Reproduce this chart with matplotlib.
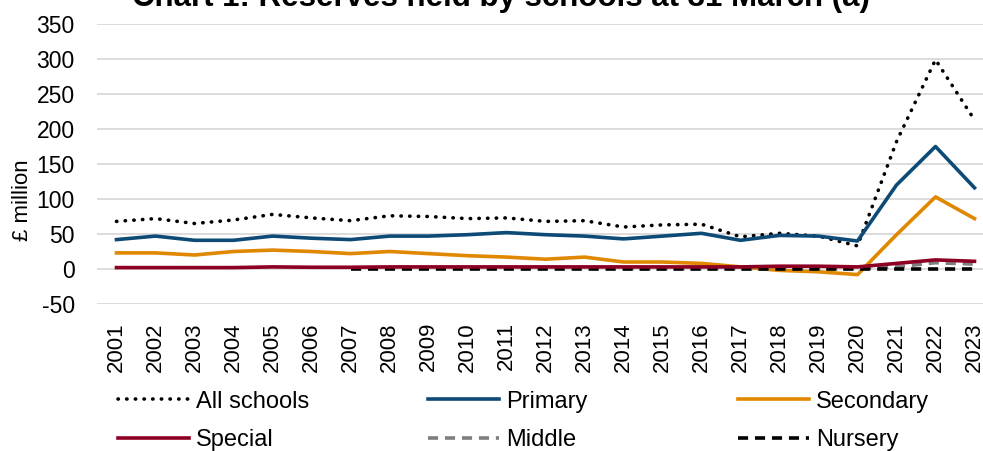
import numpy as np
import matplotlib.pyplot as plt

plt.rcParams['font.family'] = ['Liberation Sans', 'DejaVu Sans']
plt.rcParams['axes.unicode_minus'] = False

years = [str(y) for y in range(2001, 2024)]
nan = np.nan

# values in £ million
all_schools = [68, 72, 65, 70, 78, 73, 69, 76, 75, 72, 73, 68, 69, 60, 63, 64, 46, 51, 47, 33, 182, 299, 213]
primary = [42, 47, 41, 41, 47, 44, 42, 47, 47, 49, 52, 49, 47, 43, 47, 51, 41, 48, 47, 40, 120, 175, 116]
secondary = [23, 23, 20, 25, 27, 25, 22, 25, 22, 19, 17, 14, 17, 10, 10, 8, 3, -2, -4, -8, 49, 103, 72]
special = [2, 2, 2, 2, 3, 2.5, 2.5, 3, 3, 3, 3, 3, 3, 3, 3, 3, 3, 4, 4, 3, 8, 13, 11]
middle = [nan] * 13 + [0.5, 0.5, 0.5, 0.5, 0.5, 0.5, 0.5, 3, 9, 7]
nursery = [nan] * 6 + [0.3] * 17

fig = plt.figure(figsize=(9.83, 4.51), dpi=100)
ax = fig.add_axes([97 / 983, 1 - 304 / 451, 897 / 983, 280 / 451])

x = np.arange(len(years))
lw = 2.6
l_all, = ax.plot(x, all_schools, color='black', lw=lw, linestyle=(0, (0.1, 2.3)),
                 dash_capstyle='round', label='All schools')
l_pri, = ax.plot(x, primary, color='#0E4A76', lw=lw, label='Primary')
l_sec, = ax.plot(x, secondary, color='#E08800', lw=lw, label='Secondary')
l_mid, = ax.plot(x, middle, color='#7F7F7F', lw=lw, linestyle=(0, (2.8, 1.9)), label='Middle')
l_nur, = ax.plot(x, nursery, color='black', lw=lw, linestyle=(0, (2.8, 1.9)), label='Nursery')
l_spe, = ax.plot(x, special, color='#8E0023', lw=lw, label='Special')

ax.set_xlim(-0.5, len(years) - 0.5)
ax.set_ylim(-50, 350)
ax.set_yticks(range(-50, 351, 50))
ax.set_xticks(x)
ax.set_xticklabels(years, rotation=90)
ax.tick_params(axis='y', length=0, pad=16, labelsize=16.5)
ax.tick_params(axis='x', length=0, pad=13, labelsize=16)
ax.grid(axis='y', color='#D9D9D9', lw=1.3)
ax.set_axisbelow(True)
for s in ax.spines.values():
    s.set_visible(False)

fig.text(22 / 983, 1 - 200 / 451, '£ million', rotation=90, ha='center', va='center', fontsize=16)
fig.text(501 / 983, 1 - 6 / 451, 'Chart 1: Reserves held by schools at 31 March (a)',
         ha='center', va='baseline', fontsize=22.5, fontweight='bold')

# legend: three columns placed like the original
cols = [(118, [l_all, l_spe]), (428, [l_pri, l_mid]), (738, [l_sec, l_nur])]
for xpos, hs in cols:
    fig.legend(handles=hs, loc='center left', bbox_to_anchor=(xpos / 983, 1 - 421 / 451),
               frameon=False, fontsize=17, handlelength=3.0, handletextpad=0.3,
               labelspacing=0.7, borderpad=0, borderaxespad=0)

plt.savefig('out.png', dpi=100)
